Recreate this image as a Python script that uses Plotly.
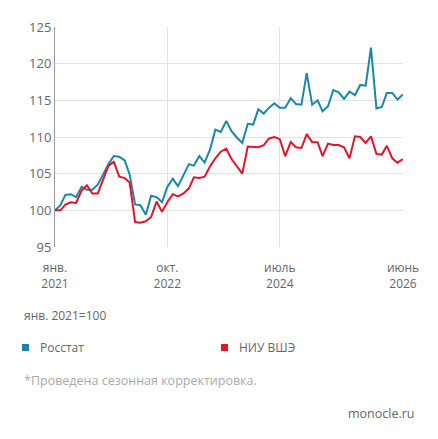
import pandas as pd
import plotly.graph_objects as go

months = pd.date_range("2021-01-01", periods=66, freq="MS")

rosstat = [100, 100.7, 102.1, 102.2, 101.8, 103.2, 102.8, 102.8, 103.5, 104.9,
           106.3, 107.4, 107.3, 106.8, 104.9, 100.8, 100.7, 99.4, 102.0, 101.8,
           101.1, 103.2, 104.3, 103.3, 104.7, 106.3, 106.1, 107.4, 106.5, 108.3,
           111.0, 110.7, 112.2, 110.8, 109.9, 109.2, 111.8, 111.7, 113.8, 113.2,
           114.0, 114.6, 114.0, 114.0, 115.3, 114.5, 114.4, 118.7, 114.4, 115.0,
           113.5, 114.2, 116.4, 116.1, 115.2, 116.2, 115.7, 117.1, 117.0, 122.2,
           113.9, 114.1, 116.0, 116.0, 115.1, 115.8]
hse = [100, 100, 100.8, 101.1, 101.0, 102.7, 103.4, 102.3, 102.3, 104.2,
       106.1, 106.6, 104.6, 104.4, 103.8, 98.4, 98.3, 98.5, 99.1, 101.2,
       99.8, 101.1, 102.2, 101.9, 102.3, 103.0, 104.5, 104.4, 104.6, 106.0,
       107.1, 108.0, 108.4, 107.0, 105.9, 105.0, 108.7, 108.7, 108.6, 108.9,
       109.8, 110.0, 109.7, 107.4, 109.3, 108.6, 108.5, 110.4, 109.3, 109.3,
       107.4, 109.1, 108.9, 108.9, 108.6, 107.1, 110.1, 110.0, 109.2, 110.1,
       107.7, 107.6, 108.8, 107.1, 106.5, 107.0]

tick_dates = ["2021-01-01", "2022-10-01", "2024-07-01", "2026-06-01"]
tick_labels = ["янв.<br>2021", "окт.<br>2022", "июль<br>2024", "июнь<br>2026"]

BLUE = "#1b87a6"
RED = "#e3152b"
GREY = "#666666"

# page offset: body margin of the html page
OFF = 8
L, R, T, B = 55 - OFF, 35 + OFF, 27 - OFF, 192 + OFF

fig = go.Figure()
fig.add_trace(go.Scatter(x=months, y=rosstat, mode="lines", line=dict(color=BLUE, width=2)))
fig.add_trace(go.Scatter(x=months, y=hse, mode="lines", line=dict(color=RED, width=2)))

fig.update_layout(
    width=438, height=439,
    margin=dict(l=L, r=R, t=T, b=B),
    paper_bgcolor="white", plot_bgcolor="white",
    showlegend=False,
    font=dict(family="Open Sans", color=GREY, size=13),
    xaxis=dict(
        tickvals=tick_dates, ticktext=tick_labels,
        range=["2021-01-01", "2026-06-01"], automargin=False,
        showgrid=True, gridcolor="#e3e3e3", zeroline=False,
        showline=False, ticks="outside", ticklen=10, tickcolor="white",
        tickfont=dict(size=12),
    ),
    yaxis=dict(
        range=[95, 125], tickvals=[95, 100, 105, 110, 115, 120, 125], automargin=False,
        showgrid=True, gridcolor="#e3e3e3", zeroline=False,
        showline=True, linecolor="#999999", ticks="", tickfont=dict(size=13),
    ),
)

notes = [
    (22, 315, "янв. 2021=100", 12, GREY),
    (38, 347, "Росстат", 12, GREY),
    (237, 347, "НИУ ВШЭ", 12, GREY),
    (22, 380, "*Проведена сезонная корректировка.", 12.5, "#aaaaaa"),
    (346, 413, "monocle.ru", 12.5, GREY),
]
pw, ph = 438 - L - R, 439 - T - B
px_x = lambda x: (x - OFF - L) / pw
px_y = lambda y: 1 - (y - OFF - T) / ph
for x, y, t, s, c in notes:
    fig.add_annotation(x=px_x(x), y=px_y(y), xref="paper", yref="paper",
                       text=t, showarrow=False, xanchor="left", yanchor="middle",
                       font=dict(size=s, color=c))
for x, c in [(22, BLUE), (221, RED)]:
    fig.add_shape(type="rect", xref="paper", yref="paper",
                  x0=px_x(x), x1=px_x(x + 7), y0=px_y(344), y1=px_y(351),
                  fillcolor=c, line_width=0)

fig.write_html("out.html")
